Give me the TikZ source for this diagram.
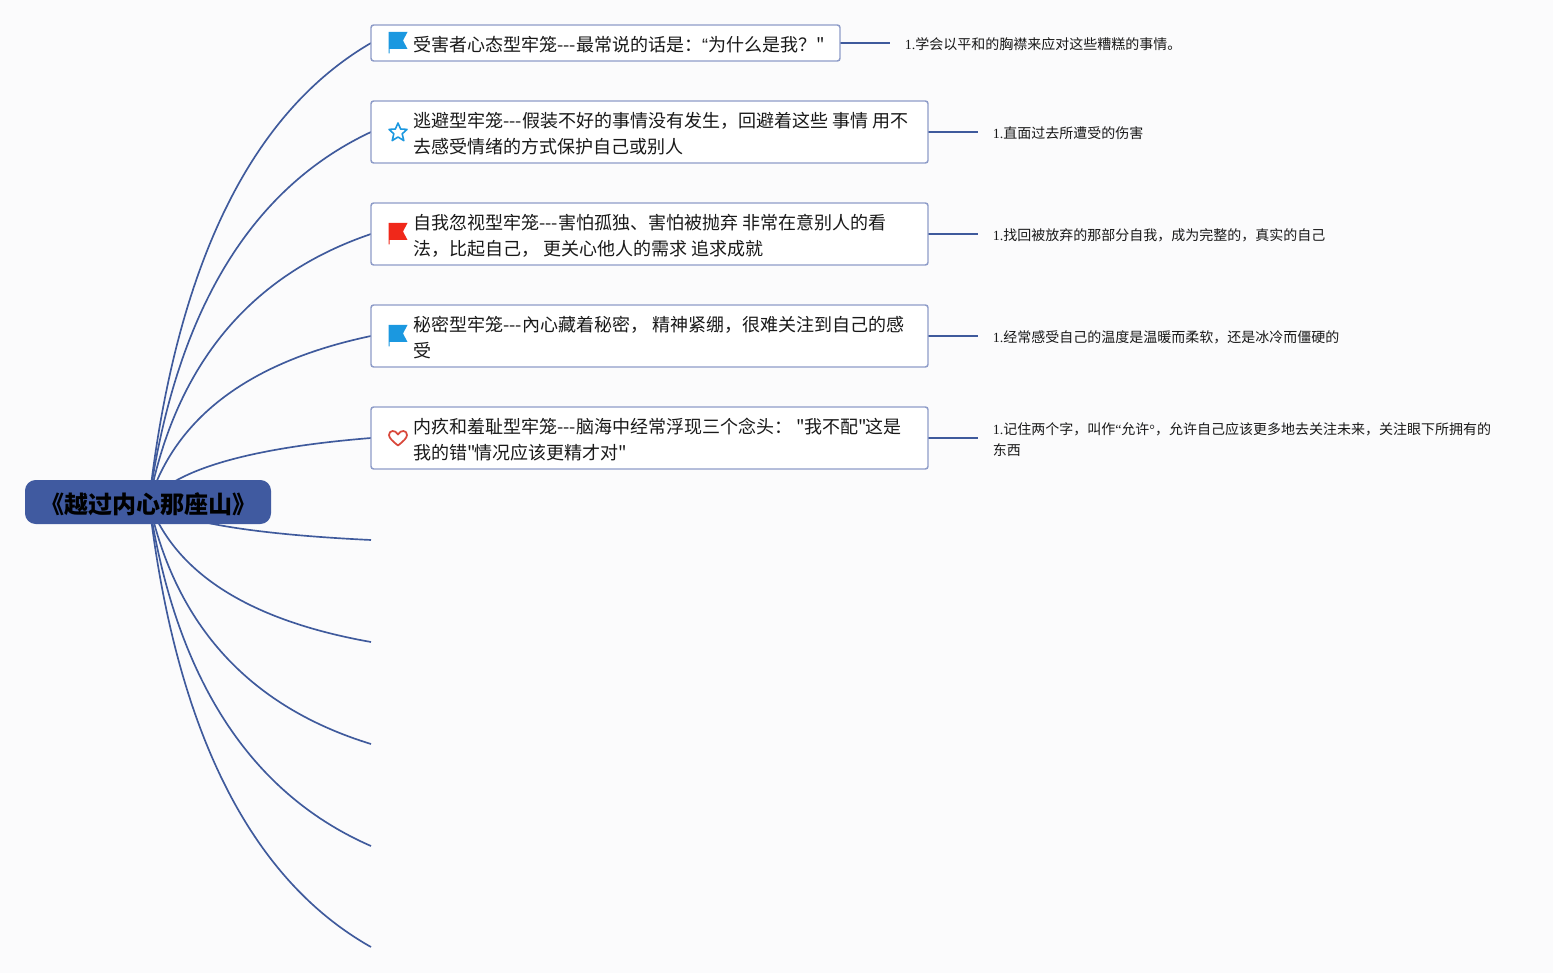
\documentclass[tikz,border=0pt]{standalone}
\usepackage{fontspec}
\newfontfamily\cjkmain{Noto Sans CJK SC}
\newfontfamily\serifpart{Liberation Serif}
\newfontfamily\sanspart{Liberation Sans}
\pgfdeclarelayer{pagefill}
\pgfdeclarelayer{links}
\pgfsetlayers{pagefill,links,main}
\definecolor{pagebg}{HTML}{FBFBFC}
\definecolor{linkc}{HTML}{3F5A9C}
\definecolor{rootc}{HTML}{405AA0}
\definecolor{boxline}{HTML}{8E9CC8}
\definecolor{flagblue}{HTML}{1B98E0}
\definecolor{flagred}{HTML}{F0281A}
\definecolor{heartred}{HTML}{D9483B}
\tikzset{
  x=0.75pt,y=-0.75pt,
  topicbox/.style={draw=boxline,line width=1.1pt,fill=white,rounded corners=2pt,inner sep=0pt,outer sep=0pt,anchor=north west},
  roottopic/.style={fill=rootc,rounded corners=8pt,inner sep=0pt,outer sep=0pt,minimum width=184.5pt,minimum height=33pt,font=\cjkmain\fontsize{18}{22}\selectfont\bfseries,text=black},
  maintext/.style={anchor=west,inner sep=0pt,align=left,font=\cjkmain\fontsize{13.5}{19.5}\selectfont,text=black!90},
  smalltext/.style={anchor=west,inner sep=0pt,align=left,font=\cjkmain\fontsize{10.5}{15.5}\selectfont,text=black!90},
  link/.style={draw=linkc,line width=1.25pt},
  stub/.style={draw=linkc,line width=1.4pt},
  flagicon/.pic={
    \fill[pic actions] (-9.5,10.5) -- (-9.5,-11) -- (9.5,-11) -- (5,-2.5) -- (9.5,6) -- (-8.5,6) -- (-8.5,10.5) -- cycle;
  },
  staricon/.pic={
    \draw[pic actions,line width=1.2pt,line join=round] (0,-9) -- (2.6,-3) -- (9,-2.6) -- (4.2,1.8) -- (5.8,8.6) -- (0,5) -- (-5.8,8.6) -- (-4.2,1.8) -- (-9,-2.6) -- (-2.6,-3) -- cycle;
  },
  hearticon/.pic={
    \draw[pic actions,line width=1.3pt,line join=round] (0,7.5) .. controls (-5,3.5) and (-9,0) .. (-9,-3) .. controls (-9,-8) and (-2.5,-8.5) .. (0,-3.5) .. controls (2.5,-8.5) and (9,-8) .. (9,-3) .. controls (9,0) and (5,3.5) .. (0,7.5) -- cycle;
  }
}
\begin{document}
\begin{tikzpicture}
\useasboundingbox (0,0) rectangle (1553,973);
\begin{pgfonlayer}{pagefill}
  \fill[pagebg] (0,0) rectangle (1553,973);
\end{pgfonlayer}

\node[roottopic] (root) at (148,502) {\raisebox{-8.4pt}[0pt][0pt]{《越过内心那座山》}};
\coordinate (hub) at (149,502);

\node[topicbox,minimum width=351.75pt,minimum height=27pt] (b1) at (371,25) {};
\node[topicbox,minimum width=417.75pt,minimum height=46.5pt] (b2) at (371,101) {};
\node[topicbox,minimum width=417.75pt,minimum height=46.5pt] (b3) at (371,203) {};
\node[topicbox,minimum width=417.75pt,minimum height=46.5pt] (b4) at (371,305) {};
\node[topicbox,minimum width=417.75pt,minimum height=46.5pt] (b5) at (371,407) {};

\node[maintext] (t1) at (413,44.5) {受害者心态型牢笼---最常说的话是：{\sanspart “}为什么是我？\kern-3pt{} "};
\node[maintext] (t2) at (413,133.5) {逃避型牢笼---假装不好的事情没有发生，回避着这些 事情 用不\\去感受情绪的方式保护自己或别人};
\node[maintext] (t3) at (413,235.5) {自我忽视型牢笼---害怕孤独、害怕被抛弃 非常在意别人的看\\法，比起自己， 更关心他人的需求 追求成就};
\node[maintext] (t4) at (413,337.5) {秘密型牢笼---內心藏着秘密， 精神紧绷，很难关注到自己的感\\受};
\node[maintext] (t5) at (413,439.5) {内疚和羞耻型牢笼---脑海中经常浮现三个念头： "我不配"\kern-1pt{}这是\\我的错"\kern-1pt{}情况应该更精才对"};

\path pic[fill=flagblue] at (398,43) {flagicon};
\path pic[draw=flagblue] at (398,132) {staricon};
\path pic[fill=flagred] at (398,234) {flagicon};
\path pic[fill=flagblue] at (398,336) {flagicon};
\path pic[draw=heartred] at (398,438) {hearticon};

\coordinate (e1) at (890,43);
\coordinate (e2) at (978,132);
\coordinate (e3) at (978,234);
\coordinate (e4) at (978,336);
\coordinate (e5) at (978,438);

\node[smalltext] (s1) at (904.5,44) {{\serifpart 1.}学会以平和的胸襟来应对这些糟糕的事情。};
\node[smalltext] (s2) at (992.5,133) {{\serifpart 1.}直面过去所遭受的伤害};
\node[smalltext] (s3) at (992.5,235) {{\serifpart 1.}找回被放弃的那部分自我，成为完整的，真实的自己};
\node[smalltext] (s4) at (992.5,337) {{\serifpart 1.}经常感受自己的温度是温暖而柔软，还是冰冷而僵硬的};
\node[smalltext] (s5) at (992.5,439.5) {{\serifpart 1.}记住两个字，叫作{\serifpart “}允许{\serifpart °}，允许自己应该更多地去关注未来，关注眼下所拥有的\\东西};

\coordinate (f6) at (371,540);
\coordinate (f7) at (371,642);
\coordinate (f8) at (371,744);
\coordinate (f9) at (371,846);
\coordinate (f10) at (371,947);

\begin{pgfonlayer}{links}
  \draw[link] (hub) .. controls (175.7,266.4) and (250.3,113.2) .. (b1.west);
  \draw[link] (hub) .. controls (175.7,312.1) and (250.3,188.6) .. (b2.west);
  \draw[link] (hub) .. controls (175.7,364.4) and (250.3,275) .. (b3.west);
  \draw[link] (hub) .. controls (175.7,416.8) and (250.3,361.4) .. (b4.west);
  \draw[link] (hub) .. controls (175.7,469.2) and (250.3,447.8) .. (b5.west);
  \draw[link] (hub) .. controls (175.7,521.5) and (250.3,534.2) .. (f6);
  \draw[link] (hub) .. controls (175.7,573.9) and (250.3,620.6) .. (f7);
  \draw[link] (hub) .. controls (175.7,626.2) and (250.3,707) .. (f8);
  \draw[link] (hub) .. controls (175.7,678.5) and (250.3,793.4) .. (f9);
  \draw[link] (hub) .. controls (175.7,730.3) and (250.3,879) .. (f10);
  \draw[stub] (b1.east) -- (e1);
  \draw[stub] (b2.east) -- (e2);
  \draw[stub] (b3.east) -- (e3);
  \draw[stub] (b4.east) -- (e4);
  \draw[stub] (b5.east) -- (e5);
\end{pgfonlayer}
\end{tikzpicture}
\end{document}
